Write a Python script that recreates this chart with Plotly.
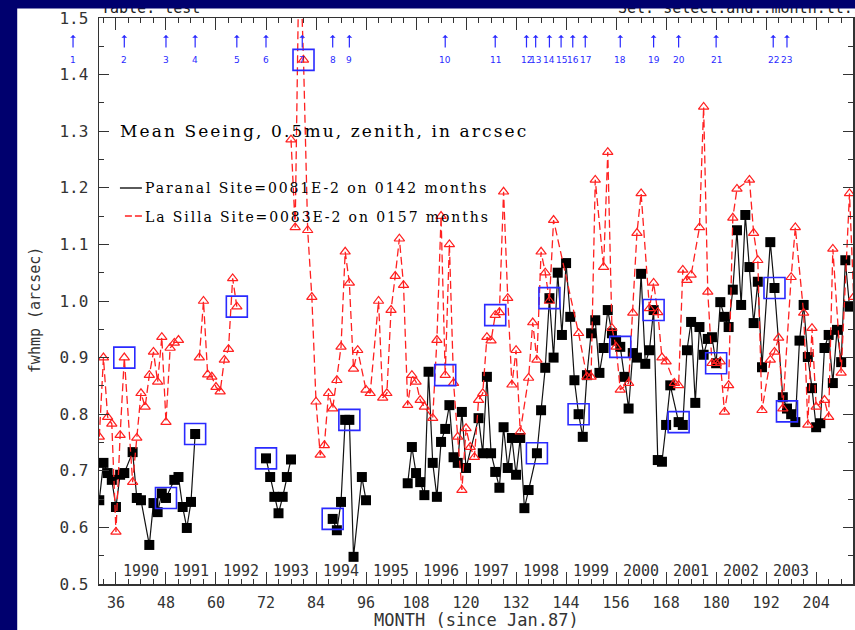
import plotly.graph_objects as go

# ---------------- data ----------------
paranal_month = [32, 33, 34, 35, 36, 37, 38, 40, 41, 42, 44, 45, 46, 47, 48, 50, 51, 52, 53, 54, 55, None,
                 72, 73, 74, 75, 76, 77, 78, None,
                 88, 89, 90, 91, 92, 93, 95, 96, None,
                 106, 107, 108, 109, 110, 111, 112, 113, 114, 115,
                 116, 117, 118, 119, 120, 123, 124, 125, 126, 127,
                 128, 129, 130, 131, 132, 133, 134, 135, 137, 138,
                 139, 140, 141, 142, 143, 144, 145, 146, 147, 148,
                 149, 150, 151, 152, 153, 154, 155, 156, 157, 158,
                 159, 160, 161, 162, 163, 164, 165, 166, 167, 168,
                 169, 171, 172, 173, 174, 175, 176, 177, 178, 179,
                 180, 181, 182, 183, 184, 185, 186, 187, 188, 189,
                 190, 191, 193, 194, 196, 197, 198, 199, 200, 201,
                 202, 203, 204, 205, 206, 207, 208, 209, 210, 211,
                 212]
paranal_value = [0.648, 0.714, 0.696, 0.684, 0.636, 0.693, 0.696, 0.733, 0.652, 0.648, 0.569, 0.643, 0.627, 0.660, 0.652, 0.684, 0.689, 0.636, 0.599, 0.645, 0.765, None,
                 0.722, 0.689, 0.654, 0.625, 0.654, 0.689, 0.720, None,
                 0.615, 0.595, 0.645, 0.790, 0.790, 0.548, 0.689, 0.648, None,
                 0.678, 0.742, 0.696, 0.680, 0.657, 0.875, 0.714, 0.654, 0.751, 0.774,
                 0.816, 0.724, 0.714, 0.804, 0.705, 0.793, 0.731, 0.866, 0.731, 0.698,
                 0.670, 0.777, 0.705, 0.758, 0.693, 0.758, 0.634, 0.666, 0.731, 0.807,
                 0.882, 1.005, 0.900, 1.050, 0.940, 1.067, 0.972, 0.860, 0.800, 0.760,
                 0.869, 0.943, 0.966, 0.873, 0.917, 0.984, 0.943, 0.930, 0.919, 0.866,
                 0.810, 0.908, 0.900, 1.048, 0.889, 0.913, 0.984, 0.719, 0.716, 0.781,
                 0.851, 0.786, 0.781, 0.913, 0.963, 0.820, 0.954, 0.905, 0.933, 0.936,
                 0.890, 0.998, 0.972, 0.954, 1.020, 1.125, 0.993, 1.152, 1.060, 0.961,
                 1.034, 0.883, 1.104, 1.023, 0.830, 0.810, 0.800, 0.786, 0.930, 0.993,
                 0.901, 0.846, 0.777, 0.784, 0.917, 0.940, 0.855, 0.949, 0.892, 1.072,
                 0.990]

lasilla_month = [32, 33, 34, 35, 36, 37, 38, 40, 41, 42,
                 43, 44, 45, 46, 47, 48, 49, 50, 51, None,
                 56, 57, 58, 59, 60, 61, 62, 63, 64, 65, None,
                 78, 79, 80, 81, 82, 83, 84, 85, 86, 87,
                 88, 89, 90, 91, 92, 93, 94, 96, 97, 99,
                 100, 101, 102, 103, 104, 105, 106, 107, 108, 109,
                 110, 112, 113, 114, 115, 116, 117, 118, 119, 120,
                 121, 122, 123, 124, 125, 126, 127, 128, 129, 130,
                 131, 132, 133, 135, 136, 137, 138, 139, 140, 141,
                 147, 149, 150, 151, 153, 154, 155, 156, 157, 159,
                 160, 161, 162, 164, 165, 166, 167, 168, 170, 171,
                 172, 173, 174, 176, 177, 178, 179, 180, 181, 182,
                 183, 184, 185, 188, 189, 190, 191, 193, 194, 195,
                 196, 198, 199, 201, 202, 203, 204, 206, 207, 208,
                 210, 212, 213]
lasilla_value = [0.760, 0.900, 0.795, 0.783, 0.592, 0.763, 0.900, 0.680, 0.758, 0.837,
                 0.813, 0.869, 0.910, 0.857, 0.936, 0.786, 0.917, 0.926, 0.931, None,
                 0.900, 1.000, 0.870, 0.866, 0.848, 0.840, 0.896, 0.915, 1.040, 0.990, None,
                 1.285, 1.130, 1.650, 1.426, 1.125, 1.007, 0.822, 0.728, 0.745, 0.837,
                 0.810, 0.860, 0.919, 1.087, 1.032, 0.880, 0.913, 0.843, 0.837, 1.000,
                 0.829, 0.837, 0.984, 1.044, 1.110, 1.028, 0.816, 0.869, 0.857, 0.825,
                 0.813, 0.793, 0.931, 1.150, 0.869, 1.100, 0.855, 0.760, 0.666, 0.775,
                 0.742, 0.724, 0.825, 0.837, 0.936, 0.930, 0.975, 0.980, 1.193, 1.005,
                 0.852, 0.913, 0.769, 0.864, 0.962, 0.896, 1.087, 1.050, 1.000, 1.143,
                 0.943, 0.866, 0.866, 1.214, 1.060, 1.263, 0.952, 0.919, 0.843, 0.855,
                 0.979, 1.120, 1.190, 0.987, 1.032, 0.980, 0.900, 0.893, 0.855, 0.851,
                 1.055, 1.037, 1.046, 1.130, 1.343, 1.016, 0.890, 0.890, 0.893, 0.804,
                 0.851, 1.147, 1.198, 1.214, 1.120, 1.072, 0.807, 0.896, 0.910, 0.935,
                 0.810, 1.042, 1.130, 0.979, 0.781, 0.952, 0.813, 0.825, 0.795, 1.092,
                 0.873, 1.190, 1.007]

# highlighted (boxed) months
box_month = [38, 48, 55, 65, 72, 81, 88, 92, 115, 127, 137, 140, 147, 157, 165, 171, 180, 194, 197]
box_value = [0.900, 0.652, 0.765, 0.990, 0.722, 1.426, 0.615, 0.790, 0.869, 0.975, 0.731, 1.005, 0.800, 0.919, 0.984, 0.786, 0.890, 1.023, 0.805]

# numbered event arrows along the top
arrow_label = [str(i) for i in range(1, 24)]
arrow_month = [25.7, 38, 48, 55, 65, 72, 80.7, 88, 92, 115, 127, 134.5, 136.7, 140, 142.8, 145.6, 148.6,
               157, 165, 171, 180, 193.7, 197]

year_label = [str(y) for y in range(1990, 2004)]
year_month = [42 + 12 * i for i in range(14)]

X_RANGE = [31.93, 212.84]
Y_RANGE = [0.5, 1.5]

NAVY = '#00006e'
BLUE = '#2a2aff'
RED = '#ff2020'
MONO = 'DejaVu Sans Mono'
SERIF = 'DejaVu Serif'

fig = go.Figure()
fig.add_trace(go.Scatter(
    x=paranal_month, y=paranal_value, mode='lines+markers', connectgaps=False,
    line=dict(color='#111111', width=1.2),
    marker=dict(symbol='square', size=10, color='black', line=dict(width=0)),
    hoverinfo='skip'))
fig.add_trace(go.Scatter(
    x=lasilla_month, y=lasilla_value, mode='lines+markers', connectgaps=False,
    line=dict(color=RED, width=1.3, dash='8px,4px'),
    marker=dict(symbol='triangle-up-open', size=9, color=RED, line=dict(width=1.2, color=RED)),
    hoverinfo='skip'))
fig.add_trace(go.Scatter(
    x=box_month, y=box_value, mode='markers',
    marker=dict(symbol='square-open', size=21, color=BLUE, line=dict(width=1.6, color=BLUE)),
    hoverinfo='skip'))

def px_to_paper_x(px):
    return (px - 99) / 756.0

def px_to_paper_y(py):
    return (584 - py) / 566.0

shapes = [
    # white page behind the plot
    dict(type='rect', xref='paper', yref='paper', x0=px_to_paper_x(17), x1=1.05,
         y0=px_to_paper_y(640), y1=px_to_paper_y(7), fillcolor='white', line=dict(width=0), layer='below'),
    # legend samples
    dict(type='line', xref='paper', yref='paper', x0=px_to_paper_x(120), x1=px_to_paper_x(142),
         y0=px_to_paper_y(188), y1=px_to_paper_y(188), line=dict(color='black', width=1.3)),
    dict(type='line', xref='paper', yref='paper', x0=px_to_paper_x(125), x1=px_to_paper_x(143),
         y0=px_to_paper_y(216), y1=px_to_paper_y(216), line=dict(color=RED, width=1.3, dash='7px,3px')),
]

annotations = []
# arrows with numbers
for lab, m in zip(arrow_label, arrow_month):
    if X_RANGE[0] <= m <= X_RANGE[1]:
        xr, xv = 'x', m
    else:
        xr, xv = 'paper', (m - X_RANGE[0]) / (X_RANGE[1] - X_RANGE[0])
    annotations.append(dict(
        x=xv, xref=xr, y=1.470, yref='y', text=lab, showarrow=True,
        ax=0, ay=25, arrowhead=1, arrowsize=0.8, arrowwidth=1.2, arrowcolor=BLUE,
        startstandoff=6, font=dict(family='DejaVu Sans', size=9, color=BLUE)))

# year labels inside the plot
for lab, m in zip(year_label, year_month):
    annotations.append(dict(x=m, xref='x', y=0.523, yref='y', text=lab, showarrow=False,
                            xanchor='center', yanchor='middle',
                            font=dict(family=MONO, size=15, color='#333333')))

def label(px, py, text, font, xanchor='left', **kw):
    d = dict(x=px_to_paper_x(px), y=px_to_paper_y(py), xref='paper', yref='paper',
             xanchor=xanchor, yanchor='middle', text=text, showarrow=False, font=font)
    d.update(kw)
    return d

annotations += [
    label(118, 131, '<span style="letter-spacing:2.1px">Mean Seeing, 0.5mu, zenith, in arcsec</span>',
          dict(family=SERIF, size=17, color='black')),
    label(143, 188, '<span style="letter-spacing:1.9px">Paranal Site=0081E-2 on 0142 months</span>',
          dict(family=SERIF, size=14, color='black')),
    label(143, 217, '<span style="letter-spacing:1.9px">La Silla Site=0083E-2 on 0157 months</span>',
          dict(family=SERIF, size=14, color='black')),
    label(35, 310, 'fwhmp (arcsec)', dict(family=MONO, size=15, color='#333333'),
          xanchor='center', textangle=-90),
    label(477, 620, 'MONTH (since Jan.87)', dict(family=MONO, size=17, color='#333333'),
          xanchor='center'),
    label(99, 8, 'Table: test', dict(family=MONO, size=15, color='#222222')),
    label(617, 8, 'Sel: select.and.:month.lt.72', dict(family=MONO, size=15, color='#222222')),
    # navy top strip drawn over the cut-off header text
    dict(x=px_to_paper_x(-10), y=px_to_paper_y(0), xref='paper', yref='paper', xanchor='left', yanchor='top',
         text=' ', showarrow=False, width=900, height=7, borderpad=0, bgcolor=NAVY),
]

fig.update_layout(
    width=855, height=630, margin=dict(l=99, r=0, t=18, b=46),
    paper_bgcolor=NAVY, plot_bgcolor='white', showlegend=False,
    shapes=shapes, annotations=annotations,
    xaxis=dict(range=X_RANGE, tickmode='linear', tick0=0, dtick=12,
               ticks='inside', ticklen=12, tickwidth=1, tickcolor='#333333',
               showline=True, linecolor='#333333', linewidth=1.5, mirror='ticks',
               showgrid=False, zeroline=False, ticklabelstandoff=4,
               tickfont=dict(family=MONO, size=15, color='#333333'),
               minor=dict(tickmode='linear', tick0=0, dtick=3, ticks='inside', ticklen=5,
                          tickcolor='#333333', tickwidth=1)),
    yaxis=dict(range=Y_RANGE, tickmode='linear', tick0=0.5, dtick=0.1, tickformat='.1f',
               ticks='inside', ticklen=10, tickwidth=1, tickcolor='#333333',
               showline=True, linecolor='#333333', linewidth=1.5, mirror='ticks',
               showgrid=False, zeroline=False, ticklabelstandoff=6,
               tickfont=dict(family=MONO, size=16, color='#333333'),
               minor=dict(tickmode='linear', tick0=0.5, dtick=0.05, ticks='inside', ticklen=5,
                          tickcolor='#333333', tickwidth=1)),
)

fig.write_html('out.html',
               config={'displayModeBar': False, 'staticPlot': True},
               post_script="document.body.style.margin='0';document.body.style.overflow='hidden';"
                           "document.body.style.background='" + NAVY + "';")
